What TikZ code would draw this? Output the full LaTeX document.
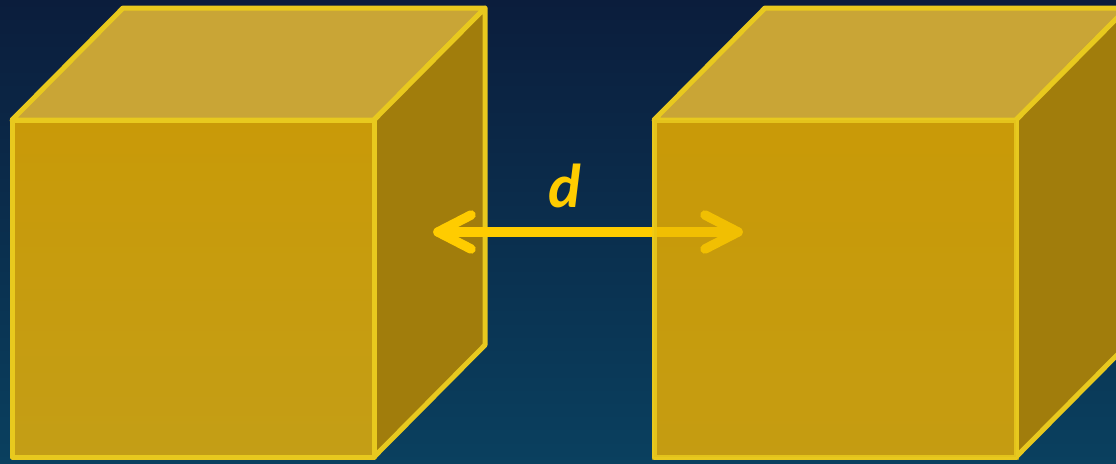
\documentclass[tikz,border=0pt]{standalone}
\usepackage{fontspec}
\usetikzlibrary{calc}
\newfontfamily\labelfont{Carlito}
\begin{document}
\begin{tikzpicture}[x=1pt,y=-1pt,
  edge/.style={draw=cubeedge,line width=5pt,line join=round},
  frontface/.style={edge,top color=cubefronttop,bottom color=cubefrontbot},
  topface/.style={edge,fill=cubetop},
  sideface/.style={edge,fill=cubeside},
  measure/.style={draw=arrowgold,line width=9.5pt,line cap=round,line join=round},
  box/.pic={
    \path[topface] (0,0) -- (111,-112) -- (473,-112) -- (362,0) -- cycle;
    \path[sideface] (362,0) -- (473,-112) -- (473,225) -- (362,337) -- cycle;
    \path[frontface] (0,0) rectangle (362,337);
  }]
\definecolor{bgtop}{HTML}{0B1D3C}
\definecolor{bgbot}{HTML}{0A405F}
\definecolor{cubeedge}{HTML}{E8C91E}
\definecolor{cubefronttop}{HTML}{C99A08}
\definecolor{cubefrontbot}{HTML}{C49E16}
\definecolor{cubetop}{HTML}{C9A536}
\definecolor{cubeside}{HTML}{A17D0C}
\definecolor{arrowgold}{HTML}{FFCC00}

\useasboundingbox (0,0) rectangle (1116,463);
\clip (0,0) rectangle (1116,463);
\shade[top color=bgtop,bottom color=bgbot] (0,0) rectangle (1116,463);

% left cube
\pic at (12,120) {box};
% right cube
\pic at (654,120) {box};

% distance marker
\coordinate (L) at (438,232);
\coordinate (R) at (738,232);
\draw[measure] (L) -- (R);
\draw[measure] ($(L)+(33,-17)$) -- (L) -- ($(L)+(33,17)$);
\draw[measure] ($(R)+(-33,-17)$) -- (R) -- ($(R)+(-33,17)$);
% front face of the right cube seen faintly over the marker
\path[fill=cubefronttop,fill opacity=0.25,draw=cubeedge,draw opacity=0.5,line width=5pt]
  (654,120) rectangle (1016,457);

\node[text=arrowgold,font=\labelfont\bfseries\itshape\fontsize{62}{62}\selectfont] (dlabel) at (565,186) {d};
\end{tikzpicture}
\end{document}
